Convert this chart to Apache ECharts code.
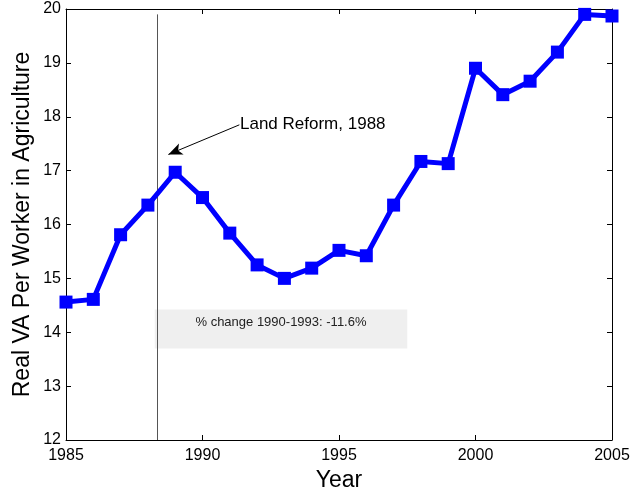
<!DOCTYPE html>
<html>
<head>
<meta charset="utf-8">
<script src="https://cdn.jsdelivr.net/npm/echarts@6/dist/echarts.min.js"></script>
<style>
  html, body { margin: 0; padding: 0; background: #fff; }
  #chart { width: 631px; height: 490px; }
</style>
</head>
<body>
<div id="chart"></div>
<script>
const years = [1985, 1986, 1987, 1988, 1989, 1990, 1991, 1992, 1993, 1994, 1995,
  1996, 1997, 1998, 1999, 2000, 2001, 2002, 2003, 2004, 2005];
const vaPerWorker = [14.56, 14.61, 15.81, 16.36, 16.97, 16.5, 15.84, 15.25, 15.0, 15.19, 15.52,
  15.42, 16.36, 17.17, 17.13, 18.9, 18.41, 18.66, 19.2, 19.9, 19.87];
const reformYear = 1988.35;
const changeBox = [[1988.25, 14.42], [1997.5, 13.7]];
const changeText = '% change 1990-1993: -11.6%';
const reformText = 'Land Reform, 1988';
const arrowFrom = [1991.35, 17.85];
const arrowTo = [1988.75, 17.3];

const font = 'Liberation Sans, Arial, sans-serif';
const chart = echarts.init(document.getElementById('chart'));

const baseAxis = {
  axisLine: { show: true, onZero: false, lineStyle: { color: '#000', width: 1 } },
  axisTick: { show: true, inside: true, length: 5, lineStyle: { color: '#000' } },
  splitLine: { show: false }
};

chart.setOption({
  backgroundColor: '#fff',
  animation: false,
  grid: { left: 66, right: 19, top: 9, bottom: 50, containLabel: false, outerBoundsMode: 'none' },
  xAxis: [
    Object.assign({}, baseAxis, {
      type: 'value', min: 1985, max: 2005, interval: 5,
      name: 'Year', nameLocation: 'middle', nameGap: 28,
      nameTextStyle: { fontFamily: font, fontSize: 23, color: '#000' },
      axisLabel: { fontFamily: font, fontSize: 16, color: '#000', margin: 8,
        formatter: v => String(v) }
    }),
    Object.assign({}, baseAxis, {
      type: 'value', min: 1985, max: 2005, interval: 5, position: 'top',
      axisLabel: { show: false }
    })
  ],
  yAxis: [
    Object.assign({}, baseAxis, {
      type: 'value', min: 12, max: 20, interval: 1,
      name: 'Real VA Per Worker in Agriculture', nameLocation: 'middle', nameGap: 32,
      nameMoveOverlap: false,
      nameTextStyle: { fontFamily: font, fontSize: 23, color: '#000' },
      axisLabel: { fontFamily: font, fontSize: 16, color: '#000', margin: 5 }
    }),
    Object.assign({}, baseAxis, {
      type: 'value', min: 12, max: 20, interval: 1, position: 'right',
      axisLabel: { show: false }
    })
  ],
  series: [{
    type: 'line',
    data: years.map((y, i) => [y, vaPerWorker[i]]),
    symbol: 'rect',
    symbolSize: 13,
    showAllSymbol: true,
    lineStyle: { color: '#0000ff', width: 5 },
    itemStyle: { color: '#0000ff' },
    z: 5,
    markArea: {
      silent: true,
      itemStyle: { color: '#efefef' },
      label: {
        show: true, position: 'insideTop', distance: 6,
        fontFamily: font, fontSize: 13, color: '#222',
        formatter: changeText
      },
      data: [[{ coord: changeBox[0] }, { coord: changeBox[1] }]]
    },
    markLine: {
      silent: true,
      symbol: 'none',
      label: { show: false },
      data: [
        [{ coord: [reformYear, 12], lineStyle: { color: '#555', width: 1, type: 'solid' } },
         { coord: [reformYear, 19.9] }],
        [{ coord: arrowFrom, symbol: 'none', lineStyle: { color: '#000', width: 1, type: 'solid' } },
         { coord: arrowTo, symbol: 'arrow', symbolSize: [9, 14] }]
      ]
    }
  }],
  graphic: [{
    type: 'text',
    left: 240, top: 116,
    style: { text: reformText, font: '17px ' + font, fill: '#000' }
  }]
});
</script>
</body>
</html>
